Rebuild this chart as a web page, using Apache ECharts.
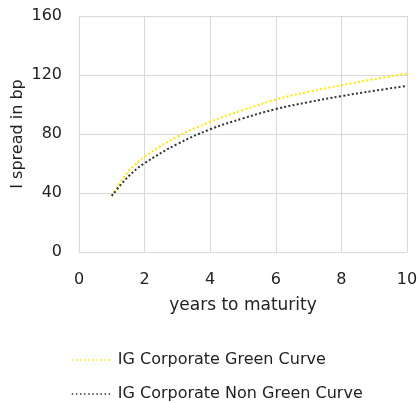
<!DOCTYPE html>
<html><head><meta charset="utf-8">
<script src="https://cdn.jsdelivr.net/npm/echarts@6/dist/echarts.min.js"></script>
<style>html,body{margin:0;padding:0;background:#fff}#c{width:417px;height:403px}</style>
</head><body><div id="c"></div>
<script>
const years = [1, 1.5, 2, 3, 4, 5, 6, 7, 8, 9, 10];
const greenCurve = [38, 54.5, 64.6, 78.2, 88.3, 96.2, 103.4, 108.6, 113.1, 117.2, 121.0];
const nonGreenCurve = [38, 51.1, 60.2, 73.2, 83.2, 90.6, 96.9, 101.6, 105.7, 109.3, 112.6];
const seriesNames = ['IG Corporate Green Curve', 'IG Corporate Non Green Curve'];
const seriesColors = ['#FFE800', '#333333'];

const font = 'DejaVu Sans';
const chart = echarts.init(document.getElementById('c'));
function pairs(vals){ return years.map((x,i)=>[x, vals[i]]); }
const mk = (name, vals, color) => ({
  name, type: 'line', data: pairs(vals), smooth: 0.4, symbol: 'none',
  color: color,
  lineStyle: { color: color, width: 2, type: [2, 2.3] },
  emphasis: { disabled: true }
});
const legendBase = (top, name) => ({
  orient: 'vertical', left: 66, top: top, itemWidth: 41, itemHeight: 16,
  itemStyle: { opacity: 0 },
  lineStyle: { width: 1.5, type: [1.5, 2.6] },
  textStyle: { fontFamily: font, fontSize: 16, lineHeight: 16, color: '#222' },
  data: [name]
});
chart.setOption({
  animation: false,
  textStyle: { fontFamily: font },
  grid: { left: 79, right: 10, top: 16, bottom: 151, outerBoundsMode: 'none', containLabel: false },
  xAxis: {
    type: 'value', min: 0, max: 10, interval: 2,
    name: 'years to maturity', nameLocation: 'middle', nameGap: 45, nameMoveOverlap: false,
    nameTextStyle: { fontFamily: font, fontSize: 17, color: '#222' },
    axisLine: { show: true, lineStyle: { color: '#d9d9d9' } },
    axisTick: { show: false },
    axisLabel: { fontFamily: font, fontSize: 16, color: '#222', margin: 20 },
    splitLine: { show: true, lineStyle: { color: '#d9d9d9' } }
  },
  yAxis: {
    type: 'value', min: 0, max: 160, interval: 40,
    name: 'I spread in bp', nameLocation: 'middle', nameGap: 53, nameRotate: 90, nameMoveOverlap: false,
    nameTextStyle: { fontFamily: font, fontSize: 16, color: '#222' },
    axisLine: { show: true, lineStyle: { color: '#d9d9d9' } },
    axisTick: { show: false },
    axisLabel: { fontFamily: font, fontSize: 16, color: '#222', margin: 17 },
    splitLine: { show: true, lineStyle: { color: '#d9d9d9' } }
  },
  legend: [legendBase(347, seriesNames[0]), legendBase(381, seriesNames[1])],
  series: [
    mk(seriesNames[0], greenCurve, seriesColors[0]),
    mk(seriesNames[1], nonGreenCurve, seriesColors[1])
  ]
});
</script></body></html>
